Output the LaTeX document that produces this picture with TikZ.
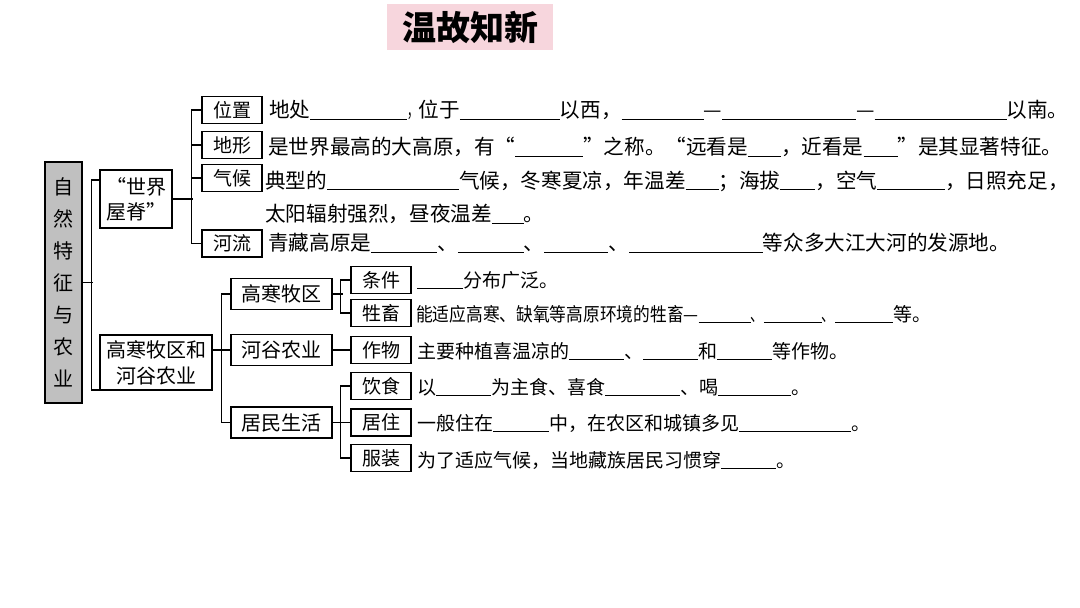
\documentclass[tikz,border=0pt]{standalone}
\usepackage{fontspec}
\setmainfont{Noto Sans CJK SC}
\definecolor{titlepink}{RGB}{247,214,221}
\definecolor{rootgray}{RGB}{192,192,192}
\newcommand\bk[1]{\rule[-0.1em]{#1pt}{0.8pt}}
\newcommand\nd[1]{\scalebox{0.55}[1]{#1}}
\begin{document}
\begin{tikzpicture}[x=1pt,y=-1pt,
  ln/.style={line width=1.3pt},
  bx/.style={draw,line width=1.5pt,inner sep=0pt,font=\fontsize{19}{19}\selectfont},
  sb/.style={bx,minimum width=60pt,minimum height=27pt},
  mb/.style={bx,minimum width=101pt,minimum height=31pt,font=\fontsize{20}{20}\selectfont},
  tx/.style={anchor=west,inner sep=0pt,font=\fontsize{19}{19}\selectfont},
  txa/.style={anchor=west,inner sep=0pt,font=\fontsize{20.6}{20.6}\selectfont}]
\useasboundingbox (0,0) rectangle (1080,608);
\fill[white] (0,0) rectangle (1080,608);
\node[fill=titlepink,minimum width=166pt,minimum height=46pt,inner sep=0pt,font=\fontsize{34}{34}\selectfont\bfseries] (title) at (470,27) {温故知新};

\node[draw,line width=1.5pt,fill=rootgray,minimum width=37pt,minimum height=241pt,inner sep=0pt,align=center,font=\fontsize{20}{32}\selectfont] (root) at (63.5,282.5) {自\\然\\特\\征\\与\\农\\业};
\node[bx,minimum width=72pt,minimum height=58pt,align=center,font=\fontsize{20}{25}\selectfont] (sj) at (136,199) {“世界\\屋脊”};
\node[bx,minimum width=112pt,minimum height=55pt,align=center,font=\fontsize{20}{26}\selectfont] (gn) at (156,362.5) {高寒牧区和\\河谷农业};

\node[sb] (wz) at (232,110) {位置};
\node[sb] (dx) at (232,145) {地形};
\node[sb] (qh) at (232,178) {气候};
\node[sb] (hl) at (232,243.5) {河流};
\node[mb] (gh) at (281.5,294) {高寒牧区};
\node[mb] (hg) at (281.5,350) {河谷农业};
\node[mb] (jm) at (281.5,422.5) {居民生活};
\node[sb] (tj) at (381,280) {条件};
\node[sb] (sc) at (381,313) {牲畜};
\node[sb] (zw) at (381,350) {作物};
\node[sb] (ys) at (381,386) {饮食};
\node[sb] (jz) at (381,422.5) {居住};
\node[sb] (fz) at (381,458) {服装};

\draw[ln] (root.east) -- ++(10,0);
\draw[ln] ([yshift=19pt]sj.west) -- ++(-8,0) |- ([yshift=-27.5pt]gn.west);
\draw[ln] (sj.east) -- ++(20,0);
\draw[ln] (wz.west) -- ++(-10,0) |- (hl.west);
\draw[ln] (dx.west) -- ++(-10,0);
\draw[ln] (qh.west) -- ++(-10,0);
\draw[ln] (gh.west) -- ++(-9,0) |- (jm.west);
\draw[ln] (hg.west) -- (hg.west -| gn.east);
\draw[ln] (gh.east) -- ++(10,0);
\draw[ln] (tj.west) -- ++(-10,0) |- (sc.west);
\draw[ln] (hg.east) -- (zw.west);
\draw[ln] (jm.east) -- ++(10,0);
\draw[ln] (ys.west) -- ++(-10,0) |- (fz.west);
\draw[ln] (jz.west) -- ++(-10,0);

\node[txa] (t1) at (269,110) {地处\bk{97}\nd{，}位于\bk{100}以西，\bk{82}—\bk{134}—\bk{132}以南。};
\node[txa] (t2) at (268,147) {是世界最高的大高原，有“\bk{68}”之称。“远看是\bk{33}，近看是\bk{34}”是其显著特征。};
\node[txa] (t3) at (265,181) {典型的\bk{132}气候，冬寒夏凉，年温差\bk{33}；海拔\bk{35}，空气\bk{68}，日照充足，};
\node[txa] (t3b) at (265,214) {太阳辐射强烈，昼夜温差\bk{32}。};
\node[txa] (t4) at (268,243) {青藏高原是\bk{66}、\bk{66}、\bk{64}、\bk{134}等众多大江大河的发源地。};
\node[tx] (t5) at (417,280) {\bk{46}分布广泛。};
\node[tx] (t6) at (416,314) {\scalebox{0.88}[1]{能适应高寒、缺氧等高原环境的牲畜—}\bk{52}\scalebox{0.7}[1]{、}\bk{58}\scalebox{0.7}[1]{、}\bk{58}等。};
\node[tx] (t7) at (417,351) {主要种植喜温凉的\bk{55}、\bk{55}和\bk{55}等作物。};
\node[tx] (t8) at (417,387) {以\bk{55}为主食、喜食\bk{75}、喝\bk{73}。};
\node[tx] (t9) at (417,423) {一般住在\bk{56}中，在农区和城镇多见\bk{112}。};
\node[tx] (t10) at (417,460) {为了适应气候，当地藏族居民习惯穿\bk{55}。};
\end{tikzpicture}
\end{document}
